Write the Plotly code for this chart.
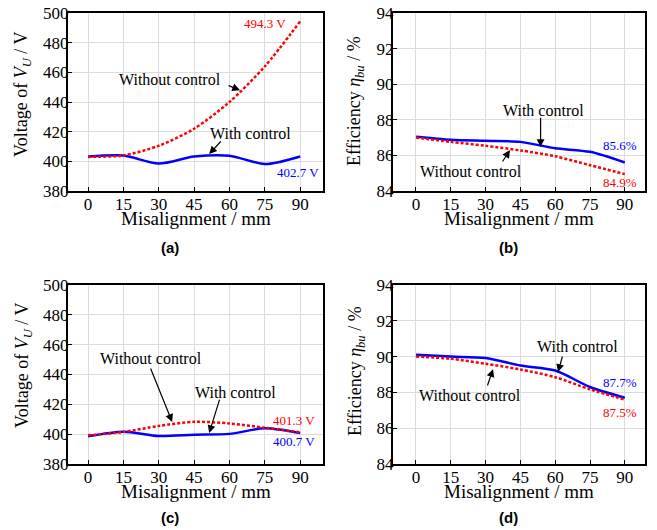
import plotly.graph_objects as go
from plotly.subplots import make_subplots

# ---------------- data ----------------
misalignment = [0, 15, 30, 45, 60, 75, 90]
x_ticks = [0, 15, 30, 45, 60, 75, 90]

a_without = [403.0, 404.0, 410.5, 422.0, 440.0, 464.0, 494.3]
a_with = [403.2, 403.9, 398.5, 403.2, 403.8, 398.2, 403.3]

b_with = [87.05, 86.88, 86.82, 86.76, 86.40, 86.20, 85.60]
b_without = [87.00, 86.76, 86.54, 86.28, 85.95, 85.45, 84.95]

c_without = [399.2, 401.5, 405.5, 408.3, 407.2, 404.3, 401.3]
c_with = [398.6, 401.7, 398.8, 399.6, 400.2, 403.9, 400.7]

d_with = [90.10, 90.00, 89.92, 89.50, 89.22, 88.30, 87.70]
d_without = [90.00, 89.88, 89.60, 89.28, 88.85, 88.17, 87.60]

v_ticks = [380, 400, 420, 440, 460, 480, 500]
e_ticks = [84, 86, 88, 90, 92, 94]

panel_labels = ["(a)", "(b)", "(c)", "(d)"]

RED = "#ff0000"
BLUE = "#0000ff"
SERIF = "Liberation Serif, Times New Roman, DejaVu Serif, serif"

# page has an 8px body margin; the figure is sized so it fills the 657x530 window
OFF = 8
FW, FH = 657 - OFF, 530 - OFF

def fx(px):
    return (px - OFF) / FW

def fy(py):
    return 1 - (py - OFF) / FH

fig = make_subplots(rows=2, cols=2)

doms = {
    1: ([fx(68), fx(323)], [fy(191), fy(13)]),
    2: ([fx(393), fx(645)], [fy(191), fy(13)]),
    3: ([fx(68), fx(323)], [fy(464), fy(285)]),
    4: ([fx(393), fx(645)], [fy(464), fy(285)]),
}

panels = [
    (1, 1, a_without, a_with, "v"),
    (1, 2, b_without, b_with, "e"),
    (2, 1, c_without, c_with, "v"),
    (2, 2, d_without, d_with, "e"),
]

for i, (r, c, wo, wi, kind) in enumerate(panels, start=1):
    fig.add_trace(go.Scatter(x=misalignment, y=wi, mode="lines",
                             line=dict(color=BLUE, width=2.5, shape="spline", smoothing=0.8),
                             showlegend=False), row=r, col=c)
    fig.add_trace(go.Scatter(x=misalignment, y=wo, mode="lines",
                             line=dict(color=RED, width=2.5, dash="3px,2px", shape="spline", smoothing=0.8),
                             showlegend=False), row=r, col=c)
    xd, yd = doms[i]
    xr = [-8.5, 99.7] if c == 1 else [-9.9, 98.7]
    fig.update_xaxes(domain=xd, range=xr, tickvals=x_ticks, row=r, col=c, automargin=False,
                     showgrid=True, gridcolor="#dcdcdc", gridwidth=1,
                     showline=True, linecolor="black", linewidth=2, mirror=True,
                     ticks="inside", ticklen=4, tickcolor="black", zeroline=False,
                     ticklabelstandoff=-3, ticklabeloverflow="allow",
                     tickfont=dict(family=SERIF, size=17, color="black"))
    if kind == "v":
        yr = [380, 500]
        yt = v_ticks
    else:
        yr = [84, 94]
        yt = e_ticks
    fig.update_yaxes(domain=yd, range=yr, tickvals=yt, row=r, col=c, automargin=False,
                     showgrid=True, gridcolor="#dcdcdc", gridwidth=1,
                     showline=True, linecolor="black", linewidth=2, mirror=True,
                     ticks="inside", ticklen=4, tickcolor="black", zeroline=False,
                     ticklabelstandoff=-6, ticklabeloverflow="allow",
                     tickfont=dict(family=SERIF, size=17, color="black"))

# axis titles
V_TITLE = "Voltage of <i>V</i><sub><i>U</i></sub> / V"
E_TITLE = "Efficiency <i>η</i><sub><i>bu</i></sub> / %"
X_TITLE = "Misalignment / mm"

def paper_text(px, py, text, font, angle=0):
    fig.add_annotation(xref="paper", yref="paper", x=fx(px), y=fy(py), text=text, textangle=angle,
                       xanchor="center", yanchor="middle", showarrow=False, font=font)

ytitles = [(V_TITLE, 23, 95), (E_TITLE, 356, 101), (V_TITLE, 23, 366), (E_TITLE, 356, 371)]
for t, px, py in ytitles:
    paper_text(px, py, t, dict(family=SERIF, size=18, color="black"), -90)
xtitles = [(195.5, 218), (519, 218), (195.5, 491), (519, 491)]
for px, py in xtitles:
    paper_text(px, py, X_TITLE, dict(family=SERIF, size=19, color="black"))

def txt(ref, x, y, text, color="black", size=16):
    fig.add_annotation(xref="x" + ref, yref="y" + ref, x=x, y=y, text=text,
                       xanchor="center", yanchor="middle",
                       showarrow=False, font=dict(family=SERIF, size=size, color=color))

def arrow(ref, hx, hy, tx, ty):
    fig.add_annotation(xref="x" + ref, yref="y" + ref, x=hx, y=hy, ax=tx, ay=ty,
                       axref="x" + ref, ayref="y" + ref, text="", showarrow=True,
                       arrowhead=2, arrowsize=1.3, arrowwidth=1.2, arrowcolor="black")

# (a)
txt("", 34.8, 455.5, "Without control")
arrow("", 64.5, 448.0, 59.0, 451.4)
txt("", 68.8, 419.0, "With control")
arrow("", 51.4, 404.9, 56.9, 414.4)
txt("", 75.0, 492.6, "494.3 V", RED, 13)
txt("", 89.0, 392.8, "402.7 V", BLUE, 13)

# (b)
txt("2", 55.1, 88.5, "With control")
arrow("2", 53.7, 86.47, 53.7, 88.2)
txt("2", 23.7, 85.07, "Without control")
arrow("2", 40.5, 86.3, 36.9, 85.57)
txt("2", 87.9, 86.53, "85.6%", BLUE, 13)
txt("2", 87.9, 84.45, "84.9%", RED, 13)

# (c)
txt("3", 26.7, 450.4, "Without control")
arrow("3", 35.7, 408.2, 26.3, 445.0)
txt("3", 62.4, 428.2, "With control")
arrow("3", 51.4, 400.7, 56.0, 424.2)
txt("3", 87.4, 409.5, "401.3 V", RED, 13)
txt("3", 87.4, 394.8, "400.7 V", BLUE, 13)

# (d)
txt("4", 69.8, 90.54, "With control")
arrow("4", 61.2, 89.14, 63.3, 90.09)
txt("4", 23.3, 87.8, "Without control")
arrow("4", 33.2, 89.3, 30.6, 88.3)
txt("4", 87.9, 88.58, "87.7%", BLUE, 13)
txt("4", 87.9, 86.85, "87.5%", RED, 13)

label_pos = [(170, 247), (508, 247), (170, 517), (508, 517)]
for lab, (px, py) in zip(panel_labels, label_pos):
    paper_text(px, py, "<b>%s</b>" % lab, dict(family="Liberation Sans, Arial, sans-serif", size=15, color="black"))

fig.update_layout(width=FW, height=FH, margin=dict(l=0, r=0, t=0, b=0),
                  paper_bgcolor="white", plot_bgcolor="white")

fig.write_html("out.html")
